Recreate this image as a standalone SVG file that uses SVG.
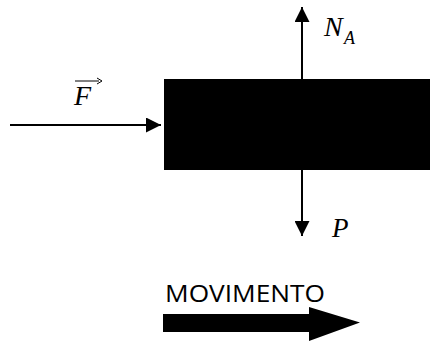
<svg xmlns="http://www.w3.org/2000/svg" width="430" height="341" viewBox="0 0 430 341">
<style>
.ln{stroke:#000;stroke-width:2;fill:none}
.m{font-family:"Liberation Serif",serif;font-style:italic;fill:#000}
.t{font-family:"Open Sans","Liberation Sans",sans-serif;fill:#000}
</style>
<defs>
<marker id="ah" markerWidth="15" markerHeight="15" viewBox="0 0 15 15" refX="15" refY="7.5" orient="auto" markerUnits="userSpaceOnUse">
<path d="M0,0 L15,7.5 L0,15 Z" fill="#000"/>
</marker>
</defs>
<rect width="430" height="341" fill="#fff"/>
<g id="block"><rect x="164" y="79" width="266" height="91" fill="#000"/></g>
<g id="connectors">
<line class="ln" x1="10" y1="125" x2="161" y2="125" marker-end="url(#ah)"/>
<line class="ln" x1="302" y1="79" x2="302" y2="7" marker-end="url(#ah)"/>
<line class="ln" x1="302" y1="170" x2="302" y2="236" marker-end="url(#ah)"/>
</g>
<g id="label-F">
<text class="m" x="74" y="105" font-size="28">F</text>
<line x1="75" y1="81" x2="99" y2="81" stroke="#000" stroke-width="1"/>
<path d="M97,78 L102,81 L97,84" fill="none" stroke="#000" stroke-width="1"/>
</g>
<g id="label-NA">
<text class="m" x="324" y="36" font-size="28">N</text>
<text class="m" x="344" y="44" font-size="18">A</text>
</g>
<g id="label-P"><text class="m" x="332" y="237" font-size="27">P</text></g>
<g id="movimento">
<text class="t" x="165" y="302" font-size="23" textLength="160" lengthAdjust="spacingAndGlyphs">MOVIMENTO</text>
<path d="M163,314 L309,314 L309,307 L360,322.5 L309,341 L309,332 L163,332 Z" fill="#000"/>
</g>
</svg>
